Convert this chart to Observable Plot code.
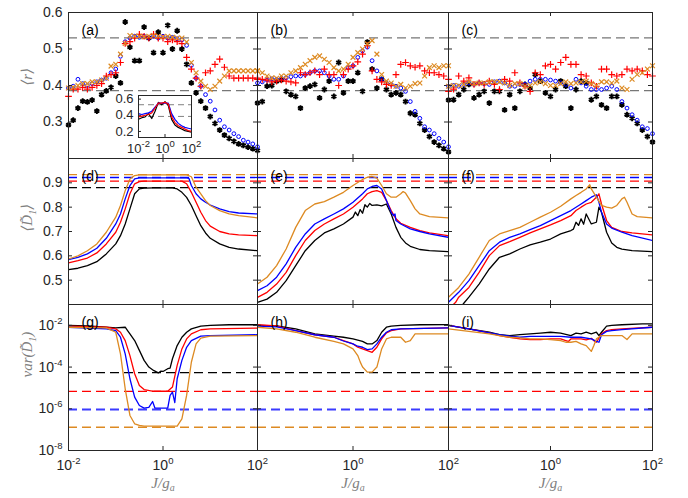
<!DOCTYPE html>
<html><head><meta charset="utf-8">
<script src="https://cdn.jsdelivr.net/npm/d3@7"></script>
<script src="https://cdn.jsdelivr.net/npm/@observablehq/plot@0.6"></script>
<style>
body{margin:0;background:#fff;}
#chart{position:relative;width:688px;height:498px;overflow:hidden;background:#fff;}
#chart svg{position:absolute;left:0;top:0;background:transparent !important;overflow:visible;}
</style></head><body><div id="chart"></div>
<script>
// ---------- data ----------
// log10(J/g_a) grid of the scatter markers (top row)
const logJ=[-2,-1.9,-1.8,-1.7,-1.6,-1.5,-1.4,-1.3,-1.2,-1.1,-1,-0.9,-0.8,-0.7,-0.6,-0.5,-0.4,-0.3,-0.2,-0.1,0,0.1,0.2,0.3,0.4,0.5,0.6,0.7,0.8,0.9,1,1.1,1.2,1.3,1.4,1.5,1.6,1.7,1.8,1.9,2];
// panel (a) <r>
const aBlack=[.292,.305,.338,.357,.355,.36,.33,.375,.385,.395,.426,.407,.574,.505,.468,.468,.56,.53,.49,.546,.49,.565,.5,.55,.5,.458,.407,.38,.357,.338,.315,.296,.278,.264,.255,.247,.24,.236,.231,.227,.222];
const aBlue=[.393,.398,.417,.405,.40,.405,.41,.415,.42,.435,.445,.48,.52,.53,.535,.532,.535,.53,.535,.53,.535,.53,.532,.528,.525,.51,.455,.42,.398,.375,.357,.333,.305,.287,.278,.268,.26,.25,.245,.24,.232];
const aRed=[.37,.39,.39,.395,.39,.395,.40,.405,.426,.43,.435,.463,.515,.52,.53,.54,.535,.53,.54,.53,.53,.52,.525,.52,.515,.477,.445,.42,.398,.435,.44,.458,.472,.45,.426,.42,.42,.42,.42,.42,.42];
const aOrange=[.393,.395,.40,.405,.405,.41,.41,.415,.42,.453,.458,.486,.515,.537,.535,.535,.533,.535,.537,.535,.533,.535,.532,.53,.53,.519,.463,.435,.412,.398,.389,.398,.412,.426,.44,.44,.44,.44,.44,.44,.44];
// panel (b)
const bBlack=[.352,.356,.398,.40,.412,.415,.384,.375,.37,.338,.393,.398,.403,.366,.389,.412,.37,.463,.38,.412,.412,.435,.384,.519,.445,.393,.417,.389,.375,.38,.375,.356,.324,.32,.296,.278,.26,.245,.236,.227,.218];
const bBlue=[.407,.41,.415,.418,.417,.42,.421,.424,.426,.426,.43,.435,.44,.44,.435,.426,.417,.417,.426,.449,.454,.477,.495,.505,.468,.44,.417,.407,.403,.398,.393,.384,.356,.329,.31,.287,.278,.268,.255,.245,.232];
const bRed=[.417,.417,.415,.41,.412,.415,.412,.41,.407,.435,.43,.435,.44,.43,.445,.43,.43,.40,.43,.445,.454,.465,.486,.509,.44,.417,.41,.403,.40,.43,.458,.463,.454,.45,.454,.44,.435,.435,.43,.426,.417];
const bOrange=[.44,.435,.426,.421,.42,.426,.426,.435,.44,.449,.458,.468,.477,.481,.472,.463,.449,.44,.445,.458,.477,.49,.50,.514,.523,.486,.43,.412,.407,.398,.403,.393,.398,.405,.407,.426,.449,.454,.449,.454,.454];
// panel (c)
const cBlack=[.36,.361,.375,.389,.403,.366,.375,.384,.352,.384,.384,.333,.375,.338,.384,.403,.393,.43,.412,.38,.37,.389,.412,.398,.338,.389,.412,.407,.361,.37,.347,.338,.37,.37,.347,.32,.31,.296,.278,.26,.245];
const cBlue=[.398,.40,.398,.403,.407,.403,.407,.405,.403,.41,.412,.407,.398,.398,.403,.403,.412,.417,.417,.417,.415,.412,.407,.403,.393,.417,.407,.398,.389,.389,.389,.393,.398,.389,.356,.338,.32,.305,.287,.282,.268];
const cRed=[.384,.39,.426,.412,.421,.403,.407,.403,.412,.403,.389,.417,.412,.435,.407,.398,.384,.435,.43,.454,.458,.445,.463,.477,.458,.458,.43,.426,.407,.398,.445,.445,.43,.426,.43,.445,.44,.445,.44,.43,.426];
const cOrange=[.398,.40,.40,.403,.41,.405,.407,.407,.41,.41,.41,.407,.40,.405,.405,.398,.40,.407,.41,.405,.40,.40,.405,.41,.405,.407,.41,.412,.405,.40,.41,.41,.407,.412,.393,.389,.417,.43,.435,.445,.454];
const rRefs=[0.5307,0.386]; // GOE / Poisson reference levels

// inset of (a): [log10 J, <r>]
const inBlack=[[-2,.35],[-1.75,.37],[-1.5,.38],[-1.25,.42],[-1,.36],[-0.75,.45],[-0.5,.56],[-0.25,.53],[0,.57],[0.25,.52],[0.5,.35],[0.75,.28],[1,.25],[1.25,.23],[1.5,.21],[1.75,.2],[2,.19]];
const inBlue=[[-2,.42],[-1.75,.41],[-1.5,.42],[-1.25,.43],[-1,.45],[-0.75,.5],[-0.5,.55],[-0.25,.55],[0,.55],[0.25,.55],[0.5,.42],[0.75,.35],[1,.3],[1.25,.27],[1.5,.25],[1.75,.24],[2,.23]];
const inRed=[[-2,.38],[-1.75,.39],[-1.5,.4],[-1.25,.41],[-1,.43],[-0.75,.49],[-0.5,.55],[-0.25,.55],[0,.56],[0.25,.54],[0.5,.38],[0.75,.31],[1,.27],[1.25,.25],[1.5,.23],[1.75,.21],[2,.2]];

// row 2 <D1>: [log10 J, value]
const dBlack=[[-2,.543],[-1.8,.549],[-1.6,.56],[-1.4,.576],[-1.2,.608],[-1,.649],[-0.9,.683],[-0.8,.731],[-0.7,.793],[-0.6,.855],[-0.5,.875],[-0.4,.878],[-0.2,.879],[0,.879],[0.2,.879],[0.3,.875],[0.4,.861],[0.5,.84],[0.6,.807],[0.7,.765],[0.8,.724],[0.9,.694],[1,.672],[1.2,.649],[1.4,.635],[1.6,.628],[2,.621]];
const dRed=[[-2,.571],[-1.8,.58],[-1.6,.591],[-1.4,.612],[-1.2,.649],[-1,.697],[-0.9,.738],[-0.8,.793],[-0.7,.855],[-0.6,.896],[-0.5,.905],[-0.4,.907],[0.4,.907],[0.5,.896],[0.6,.861],[0.7,.82],[0.8,.779],[0.9,.745],[1,.722],[1.2,.70],[1.4,.69],[1.6,.686],[2,.683]];
const dBlue=[[-2,.584],[-1.8,.594],[-1.6,.608],[-1.4,.631],[-1.2,.672],[-1,.731],[-0.9,.772],[-0.8,.834],[-0.7,.889],[-0.6,.916],[-0.5,.92],[0.5,.92],[0.55,.918],[0.6,.889],[0.7,.855],[0.8,.834],[0.9,.82],[1,.809],[1.2,.793],[1.4,.782],[1.6,.776],[2,.772]];
const dOrange=[[-2,.587],[-1.8,.60],[-1.6,.621],[-1.4,.649],[-1.2,.697],[-1,.759],[-0.9,.807],[-0.8,.868],[-0.7,.916],[-0.6,.93],[-0.5,.933],[0.5,.933],[0.6,.925],[0.7,.882],[0.8,.855],[0.9,.827],[1,.807],[1.2,.786],[1.4,.772],[1.6,.765],[2,.756]];
const eBlack=[[-2,.409],[-1.8,.422],[-1.6,.45],[-1.4,.498],[-1.2,.56],[-1,.621],[-0.8,.663],[-0.6,.694],[-0.4,.711],[-0.2,.731],[0,.759],[0.05,.78],[0.1,.765],[0.15,.79],[0.2,.775],[0.25,.81],[0.3,.80],[0.35,.815],[0.4,.807],[0.5,.809],[0.6,.805],[0.7,.813],[0.8,.772],[0.9,.717],[1,.676],[1.1,.653],[1.2,.639],[1.4,.626],[1.6,.621],[2,.617]];
const eRed=[[-2,.429],[-1.8,.45],[-1.6,.484],[-1.4,.532],[-1.2,.601],[-1,.663],[-0.8,.704],[-0.6,.731],[-0.4,.752],[-0.2,.772],[0,.80],[0.2,.834],[0.3,.855],[0.4,.864],[0.5,.868],[0.6,.861],[0.7,.827],[0.8,.786],[0.9,.752],[1,.734],[1.2,.717],[1.4,.704],[1.6,.694],[2,.683]];
const eBlue=[[-2,.457],[-1.8,.477],[-1.6,.512],[-1.4,.567],[-1.2,.635],[-1,.69],[-0.8,.731],[-0.6,.752],[-0.4,.772],[-0.2,.793],[0,.82],[0.2,.855],[0.3,.875],[0.4,.885],[0.5,.889],[0.6,.875],[0.7,.827],[0.8,.779],[0.85,.765],[0.88,.772],[0.9,.745],[1,.731],[1.2,.711],[1.4,.70],[1.6,.69],[2,.676]];
const eOrange=[[-2,.484],[-1.8,.512],[-1.6,.56],[-1.4,.628],[-1.2,.717],[-1,.786],[-0.8,.813],[-0.6,.823],[-0.4,.841],[-0.2,.861],[0,.889],[0.2,.914],[0.3,.923],[0.4,.926],[0.5,.919],[0.6,.889],[0.7,.855],[0.8,.841],[0.9,.841],[1,.855],[1.05,.864],[1.1,.858],[1.2,.827],[1.3,.793],[1.4,.772],[1.6,.761],[2,.756]];
const fBlack=[[-2,.36],[-1.8,.38],[-1.7,.405],[-1.6,.43],[-1.4,.484],[-1.2,.546],[-1,.594],[-0.8,.608],[-0.6,.628],[-0.4,.645],[-0.2,.656],[0,.669],[0.2,.69],[0.4,.704],[0.45,.71],[0.5,.738],[0.55,.725],[0.6,.752],[0.65,.73],[0.7,.772],[0.8,.731],[0.9,.738],[0.95,.80],[1,.779],[1.1,.697],[1.2,.653],[1.3,.635],[1.4,.628],[1.6,.621],[2,.617]];
const fRed=[[-2,.38],[-1.86,.409],[-1.8,.43],[-1.6,.47],[-1.4,.532],[-1.2,.601],[-1,.642],[-0.8,.658],[-0.6,.676],[-0.4,.694],[-0.2,.711],[0,.727],[0.2,.745],[0.4,.765],[0.5,.786],[0.6,.80],[0.7,.813],[0.8,.82],[0.9,.841],[0.95,.855],[1,.813],[1.1,.745],[1.2,.717],[1.4,.70],[1.6,.694],[2,.686]];
const fBlue=[[-2,.409],[-1.8,.45],[-1.6,.498],[-1.4,.56],[-1.2,.621],[-1,.656],[-0.8,.676],[-0.6,.69],[-0.4,.708],[-0.2,.724],[0,.745],[0.2,.765],[0.4,.786],[0.6,.813],[0.7,.827],[0.8,.841],[0.9,.851],[0.95,.82],[1,.779],[1.1,.731],[1.2,.714],[1.4,.697],[1.6,.683],[2,.663]];
const fOrange=[[-2,.43],[-1.8,.47],[-1.6,.525],[-1.4,.594],[-1.2,.663],[-1,.69],[-0.8,.704],[-0.6,.717],[-0.4,.738],[-0.2,.759],[0,.779],[0.2,.804],[0.4,.834],[0.5,.848],[0.6,.861],[0.7,.875],[0.77,.892],[0.8,.875],[0.9,.841],[1,.807],[1.1,.80],[1.2,.796],[1.3,.807],[1.4,.834],[1.45,.841],[1.5,.82],[1.6,.772],[1.7,.761],[2,.756]];
const dRefs=[["#000000",0.88],["#ff0000",0.907],["#0000ff",0.922],["#dd8a22",0.934]];

// row 3 var(D1): [log10 J, log10 var]
const gBlack=[[-2,-2.0],[-1.6,-2.03],[-1.2,-2.09],[-1,-2.12],[-0.8,-2.09],[-0.75,-2.25],[-0.7,-2.41],[-0.6,-2.73],[-0.5,-3.2],[-0.4,-3.68],[-0.3,-4.0],[-0.2,-4.16],[-0.15,-4.22],[-0.1,-4.28],[-0.05,-4.2],[0,-4.21],[0.1,-4.08],[0.15,-4.05],[0.2,-3.6],[0.3,-2.97],[0.4,-2.57],[0.5,-2.33],[0.6,-2.17],[0.8,-2.04],[1,-2.0],[1.4,-1.97],[2,-1.97]];
const gRed=[[-2,-2.04],[-1.2,-2.09],[-1,-2.17],[-0.9,-2.33],[-0.8,-2.73],[-0.7,-3.45],[-0.6,-4.32],[-0.5,-4.88],[-0.4,-5.08],[-0.2,-5.16],[0.1,-5.16],[0.2,-4.96],[0.3,-3.92],[0.4,-3.13],[0.5,-2.65],[0.6,-2.41],[0.8,-2.21],[1,-2.17],[2,-2.13]];
const gBlue=[[-2,-2.09],[-1.2,-2.17],[-1,-2.25],[-0.9,-2.57],[-0.8,-3.37],[-0.7,-4.56],[-0.6,-5.44],[-0.5,-5.84],[-0.4,-5.97],[-0.3,-5.93],[-0.22,-5.65],[-0.17,-5.97],[0.1,-5.97],[0.15,-5.36],[0.2,-5.2],[0.25,-5.7],[0.3,-4.56],[0.4,-3.68],[0.5,-3.05],[0.6,-2.73],[0.8,-2.52],[1,-2.49],[2,-2.45]];
const gOrange=[[-2,-2.09],[-1.2,-2.12],[-1,-2.33],[-0.9,-3.37],[-0.8,-5.04],[-0.7,-6.32],[-0.6,-6.72],[-0.5,-6.8],[-0.4,-6.83],[0.3,-6.83],[0.4,-6.48],[0.5,-5.36],[0.6,-3.77],[0.7,-2.89],[0.8,-2.61],[1,-2.52],[2,-2.49]];
const hBlack=[[-2,-2.0],[-1.6,-2.03],[-1.2,-2.17],[-0.8,-2.41],[-0.4,-2.52],[-0.2,-2.57],[0,-2.65],[0.2,-2.77],[0.3,-2.89],[0.4,-2.89],[0.5,-2.73],[0.6,-2.33],[0.7,-2.09],[0.8,-2.04],[1,-2.0],[1.4,-1.97],[2,-1.96]];
const hRed=[[-2,-1.97],[-1.6,-2.03],[-1.2,-2.25],[-0.8,-2.45],[-0.4,-2.57],[-0.2,-2.73],[0,-2.89],[0.1,-3.05],[0.2,-3.13],[0.3,-3.21],[0.4,-3.29],[0.5,-3.05],[0.6,-2.65],[0.7,-2.36],[0.8,-2.25],[1,-2.17],[2,-2.12]];
const hBlue=[[-2,-2.04],[-1.6,-2.07],[-1.2,-2.25],[-0.8,-2.45],[-0.4,-2.57],[-0.2,-2.75],[0,-2.89],[0.1,-3.0],[0.2,-3.05],[0.3,-3.16],[0.4,-3.13],[0.5,-2.89],[0.6,-2.57],[0.7,-2.33],[0.8,-2.21],[1,-2.17],[2,-2.12]];
const hOrange=[[-2,-2.09],[-1.6,-2.17],[-1.2,-2.33],[-0.8,-2.57],[-0.4,-2.77],[-0.2,-2.89],[0,-3.13],[0.1,-3.45],[0.15,-3.75],[0.2,-4.0],[0.3,-4.24],[0.4,-4.24],[0.5,-4.0],[0.6,-3.13],[0.7,-2.65],[0.8,-2.57],[1,-2.57],[1.1,-2.81],[1.2,-2.73],[1.3,-2.41],[2,-2.41]];
const iBlack=[[-2,-2.0],[-1.6,-2.17],[-1.2,-2.33],[-1,-2.45],[-0.8,-2.49],[-0.6,-2.44],[-0.4,-2.41],[-0.2,-2.37],[0,-2.33],[0.2,-2.37],[0.4,-2.49],[0.5,-2.37],[0.6,-2.41],[0.7,-2.33],[0.8,-2.41],[0.9,-2.33],[0.95,-2.49],[1,-2.33],[1.1,-2.04],[1.2,-2.0],[1.4,-1.97],[1.8,-1.93],[2,-1.93]];
const iRed=[[-2,-2.0],[-1.6,-2.17],[-1.2,-2.36],[-1,-2.49],[-0.8,-2.57],[-0.6,-2.65],[-0.4,-2.68],[-0.2,-2.68],[0,-2.65],[0.2,-2.65],[0.3,-2.73],[0.35,-2.77],[0.4,-2.65],[0.6,-2.65],[0.7,-2.7],[0.8,-2.62],[0.85,-2.73],[0.9,-2.81],[1,-2.41],[1.1,-2.25],[1.2,-2.2],[1.4,-2.17],[2,-2.09]];
const iBlue=[[-2,-2.0],[-1.6,-2.17],[-1.2,-2.36],[-1,-2.45],[-0.8,-2.52],[-0.6,-2.57],[-0.4,-2.53],[0.2,-2.53],[0.4,-2.57],[0.6,-2.57],[0.8,-2.65],[0.9,-2.77],[0.95,-2.81],[1,-2.45],[1.1,-2.29],[1.2,-2.25],[1.4,-2.2],[2,-2.09]];
const iOrange=[[-2,-2.17],[-1.6,-2.29],[-1.2,-2.41],[-1,-2.49],[-0.8,-2.57],[-0.6,-2.6],[-0.4,-2.65],[-0.2,-2.65],[0,-2.68],[0.2,-2.73],[0.3,-2.81],[0.4,-2.81],[0.5,-2.77],[0.6,-2.89],[0.7,-2.97],[0.8,-3.25],[0.85,-2.97],[0.9,-2.65],[1,-2.49],[1.4,-2.49],[1.5,-2.68],[1.6,-2.41],[2,-2.41]];
const vRefs=[["#000000",5.4e-5,1.3],["#ff0000",6.8e-6,1.3],["#3b3bff",9.3e-7,2],["#dd8a22",1.3e-7,1.3]];

const panelLabels=["(a)","(b)","(c)","(d)","(e)","(f)","(g)","(h)","(i)"];
const yLabels=["⟨r⟩","⟨D̃_{1}⟩","var(D̃_{1})"];
const xLabel="J/g_{a}";

// ---------- layout ----------
const W=688,H=498;
const cols=[[68,257],[257,448],[448,652]];
const rows=[[12,158],[158,304],[304,450]];
const INK="#262626", ORANGE="#dd8a22";
const FONT='"Liberation Sans", Arial, Helvetica, sans-serif';
const SERIF='"Liberation Serif", "DejaVu Serif", serif';
const pow=d=>`10^{${Math.round(Math.log10(d))}}`;

function richify(svg){
  const NS="http://www.w3.org/2000/svg";
  svg.querySelectorAll("text").forEach(t=>{
    const s=t.textContent;
    if(!/[\^_]\{/.test(s)) return;
    while(t.firstChild) t.removeChild(t.firstChild);
    let cur=0,last=0,m;
    const re=/([\^_])\{([^}]*)\}/g;
    const add=(txt,off,small)=>{const sp=document.createElementNS(NS,"tspan");const dy=off-cur;if(dy)sp.setAttribute("dy",dy);cur=off;if(small)sp.setAttribute("font-size",small);sp.textContent=txt;t.appendChild(sp);};
    while((m=re.exec(s))){
      if(m.index>last) add(s.slice(last,m.index),0,null);
      if(m[1]==="^") add(m[2],-6,"9.5px"); else add(m[2],3.5,"10px");
      last=re.lastIndex;
    }
    if(last<s.length) add(s.slice(last),0,null);
  });
}

function panel(col,row,yScale,yTicks,yFmt,marks,opts={}){
  const [x0,x1]=cols[col],[y0,y1]=rows[row];
  const pw=x1-x0,ph=y1-y0,t=4;
  const xT=[0.01,1,100];
  const m=[...marks,
    Plot.tickY(yTicks,{y:d=>d,stroke:INK,insetRight:pw-t}),
    Plot.tickY(yTicks,{y:d=>d,stroke:INK,insetLeft:pw-t}),
    Plot.tickX(xT,{x:d=>d,stroke:INK,insetTop:ph-t}),
    Plot.tickX(xT,{x:d=>d,stroke:INK,insetBottom:ph-t}),
    Plot.frame({stroke:INK}),
    Plot.text([panelLabels[row*3+col]],{frameAnchor:"top-left",dx:13,dy:13,textAnchor:"start",fontSize:14,fill:"#000"})
  ];
  if(col===0) m.push(Plot.text([yLabels[row]],{frameAnchor:"left",dx:-41,rotate:-90,fontFamily:SERIF,fontStyle:"italic",fontSize:15,fill:"#808080"}));
  if(row===2) m.push(Plot.text([xLabel],{frameAnchor:"bottom",dy:37,fontFamily:SERIF,fontStyle:"italic",fontSize:15,fill:"#808080"}));
  const p=Plot.plot({width:W,height:H,marginLeft:x0,marginRight:W-x1,marginTop:y0,marginBottom:H-y1,
    style:{background:"transparent",fontFamily:FONT,fontSize:"14px",color:INK,overflow:"visible"},
    x:{type:"log",domain:[0.01,100],ticks:col===0?xT:[1,100],tickFormat:pow,tickSize:0,tickPadding:10,label:null,axis:row===2?"bottom":null},
    y:{...yScale,ticks:yTicks.filter(opts.labelFilter||(()=>true)),tickFormat:yFmt,tickSize:0,tickPadding:6,label:null,axis:col===0?"left":null},
    marks:m});
  richify(p);
  return p;
}

const X=e=>10**e;
function scatter(b,bl,r,o){
  return [
    Plot.dot(b,{x:(d,i)=>X(logJ[i]),y:d=>d,symbol:"asterisk",r:2.7,stroke:"#000",strokeWidth:1.9}),
    Plot.dot(bl,{x:(d,i)=>X(logJ[i]),y:d=>d,symbol:"circle",r:1.9,stroke:"#0000ff",fill:"none",strokeWidth:1}),
    Plot.dot(r,{x:(d,i)=>X(logJ[i]),y:d=>d,symbol:"plus",r:2.3,stroke:"#ff0000",strokeWidth:1.2}),
    Plot.dot(o,{x:(d,i)=>X(logJ[i]),y:d=>d,symbol:"times",r:2.3,stroke:ORANGE,strokeWidth:1.2})
  ];
}
const rRules=()=>Plot.ruleY(rRefs,{stroke:"#777777",strokeWidth:1.2,strokeDasharray:"9,5"});
function lines(series,log){
  const cs=["#000000","#ff0000","#0000ff",ORANGE];
  return series.map((s,k)=>Plot.line(s,{x:d=>X(d[0]),y:d=>log?X(d[1]):d[1],stroke:cs[k],strokeWidth:1.3,clip:true}));
}
const dRules=()=>dRefs.map(([c,v])=>Plot.ruleY([v],{stroke:c,strokeWidth:1.3,strokeDasharray:"9,5"}));
const vRules=()=>vRefs.map(([c,v,w])=>Plot.ruleY([v],{stroke:c,strokeWidth:w,strokeDasharray:"9,5"}));

const rY={type:"linear",domain:[0.2,0.6]}, rT=[0.2,0.3,0.4,0.5,0.6];
const dY={type:"linear",domain:[0.4,1.0]}, dT=[0.5,0.6,0.7,0.8,0.9];
const vY={type:"log",domain:[1e-8,1e-1]}, vT=[1e-8,1e-6,1e-4,1e-2];
const f1=d=>d.toFixed(1);

const chart=document.getElementById("chart");
const add=n=>chart.appendChild(n);
add(panel(0,0,rY,rT,f1,[rRules(),...scatter(aBlack,aBlue,aRed,aOrange)],{labelFilter:d=>d>0.25}));
// inset of (a)
const inset=Plot.plot({width:W,height:H,marginLeft:138,marginRight:W-191,marginTop:95,marginBottom:H-137,
  style:{background:"transparent",fontFamily:FONT,fontSize:"13px",color:INK,overflow:"visible"},
  x:{type:"log",domain:[0.01,100],ticks:[0.01,1,100],tickFormat:pow,tickSize:0,tickPadding:6,label:null},
  y:{domain:[0.125,0.645],ticks:[0.2,0.4,0.6],tickFormat:f1,tickSize:0,tickPadding:5,label:null},
  marks:[Plot.frame({fill:"white"}),
    Plot.ruleY(rRefs,{stroke:"#808080",strokeWidth:1,strokeDasharray:"6,4"}),
    ...[inBlack,inBlue,inRed].map((s,k)=>Plot.line(s,{x:d=>X(d[0]),y:d=>d[1],stroke:["#000","#0000ff","#ff0000"][k],strokeWidth:1.2})),
    Plot.tickY([0.2,0.4,0.6],{y:d=>d,stroke:INK,insetRight:50}),
    Plot.tickX([1],{x:d=>d,stroke:INK,insetTop:39}),
    Plot.frame({stroke:INK})]});
richify(inset); add(inset);
add(panel(1,0,rY,rT,f1,[rRules(),...scatter(bBlack,bBlue,bRed,bOrange)]));
add(panel(2,0,rY,rT,f1,[rRules(),...scatter(cBlack,cBlue,cRed,cOrange)]));
add(panel(0,1,dY,dT,f1,[...dRules(),...lines([dBlack,dRed,dBlue,dOrange])]));
add(panel(1,1,dY,dT,f1,[...dRules(),...lines([eBlack,eRed,eBlue,eOrange])]));
add(panel(2,1,dY,dT,f1,[...dRules(),...lines([fBlack,fRed,fBlue,fOrange])]));
add(panel(0,2,vY,vT,pow,[...vRules(),...lines([gBlack,gRed,gBlue,gOrange],true)]));
add(panel(1,2,vY,vT,pow,[...vRules(),...lines([hBlack,hRed,hBlue,hOrange],true)]));
add(panel(2,2,vY,vT,pow,[...vRules(),...lines([iBlack,iRed,iBlue,iOrange],true)]));
</script></body></html>
